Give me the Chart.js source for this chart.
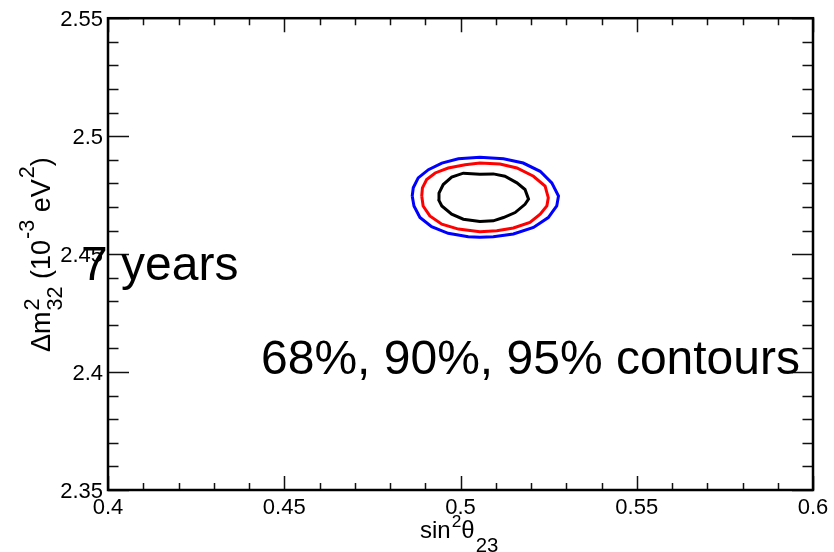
<!DOCTYPE html>
<html><head><meta charset="utf-8">
<script src="https://cdn.jsdelivr.net/npm/chart.js@4.4.1/dist/chart.umd.min.js"></script>
<style>html,body{margin:0;padding:0;background:#fff;overflow:hidden;}#wrap{width:834px;height:552px;position:relative;}</style>
</head><body><div id="wrap"><canvas id="c" width="834" height="552"></canvas></div>
<script>
// ---- data ----
const xTickLabels = ['0.4', '0.45', '0.5', '0.55', '0.6'];
const yTickLabels = ['2.35', '2.4', '2.45', '2.5', '2.55'];
const contourNames = ['95%', '90%', '68%'];

const contour68X = [0.4937,0.4939,0.4951,0.4975,0.5008,0.5055,0.5093,0.5126,0.5160,0.5183,0.5193,0.5183,0.5155,0.5122,0.5093,0.5055,0.5008,0.4975,0.4947,0.4937];
const contour68Y = [2.4733,2.4759,2.4795,2.4826,2.4843,2.4838,2.4840,2.4830,2.4802,2.4774,2.4733,2.4711,2.4676,2.4655,2.4641,2.4638,2.4648,2.4669,2.4704,2.4733];

const contour90X = [0.4890,0.4892,0.4904,0.4928,0.4965,0.5013,0.5055,0.5112,0.5160,0.5207,0.5240,0.5249,0.5245,0.5226,0.5197,0.5150,0.5103,0.5055,0.4994,0.4947,0.4913,0.4894,0.4890];
const contour90Y = [2.4746,2.4781,2.4816,2.4844,2.4865,2.4879,2.4886,2.4882,2.4865,2.4830,2.4788,2.4739,2.4704,2.4669,2.4634,2.4611,2.4599,2.4595,2.4606,2.4627,2.4662,2.4704,2.4746];

const contour95X = [0.4863,0.4866,0.4880,0.4909,0.4947,0.4994,0.5055,0.5122,0.5178,0.5226,0.5259,0.5278,0.5273,0.5249,0.5207,0.5150,0.5093,0.5055,0.5022,0.4965,0.4918,0.4885,0.4868,0.4863];
const contour95Y = [2.4746,2.4781,2.4823,2.4858,2.4886,2.4904,2.4911,2.4904,2.4886,2.4851,2.4802,2.4746,2.4704,2.4655,2.4613,2.4585,2.4574,2.4571,2.4574,2.4588,2.4616,2.4655,2.4704,2.4746];

const annotationYears = '7 years';
const annotationContours = '68%, 90%, 95% contours';

// ---- build ----
const FONT = '"Liberation Sans", Arial, Helvetica, sans-serif';
const xTickValues = xTickLabels.map(Number);
const yTickValues = yTickLabels.map(Number);
const toPts = (xs, ys) => xs.map((x, i) => ({x: x, y: ys[i]}));

function drawRich(ctx, x, y, rot, base, segs) {
  ctx.save();
  ctx.translate(x, y);
  ctx.rotate(rot);
  ctx.textBaseline = 'alphabetic';
  ctx.textAlign = 'left';
  ctx.fillStyle = '#000';
  let cx = 0, prevStart = 0, prevW = 0;
  for (const s of segs) {
    const size = base * (s.scale || 1);
    ctx.font = size + 'px ' + FONT;
    const sx = (s.stack ? prevStart : cx) + (s.dx || 0);
    ctx.fillText(s.t, sx, s.dy || 0);
    const w = ctx.measureText(s.t).width;
    if (s.stack) { cx = Math.max(prevStart + prevW, sx + w); }
    else { prevStart = sx; prevW = w; cx = sx + w; }
  }
  ctx.restore();
}

const rootStyle = {
  id: 'rootStyle',
  afterDatasetsDraw(chart) {
    const ctx = chart.ctx;
    const a = chart.chartArea;
    const xs = chart.scales.x, ys = chart.scales.y;
    ctx.save();
    ctx.strokeStyle = '#111';
    ctx.lineWidth = 1.5;
    ctx.beginPath();
    const xMaj = 14, xMin = 7, yMaj = 21, yMin = 10.5;
    for (let k = 0; k <= 20; k++) {
      const v = 0.4 + k * 0.01;
      const px = Math.round(xs.getPixelForValue(v)) + 0.5;
      const len = (k % 5 === 0) ? xMaj : xMin;
      ctx.moveTo(px, a.bottom); ctx.lineTo(px, a.bottom - len);
      ctx.moveTo(px, a.top); ctx.lineTo(px, a.top + len);
    }
    for (let k = 0; k <= 20; k++) {
      const v = 2.35 + k * 0.01;
      const py = Math.round(ys.getPixelForValue(v)) + 0.5;
      const len = (k % 5 === 0) ? yMaj : yMin;
      ctx.moveTo(a.left, py); ctx.lineTo(a.left + len, py);
      ctx.moveTo(a.right, py); ctx.lineTo(a.right - len, py);
    }
    ctx.stroke();
    ctx.strokeStyle = '#000';
    ctx.lineWidth = 2.5;
    ctx.strokeRect(a.left, a.top, a.right - a.left, a.bottom - a.top);
    ctx.restore();
  },
  afterDraw(chart) {
    const ctx = chart.ctx;
    ctx.save();
    drawRich(ctx, 420, 538, 0, 24, [
      {t: 'sin'}, {t: '2', scale: 0.72, dy: -11, dx: 1}, {t: 'θ'}, {t: '23', scale: 0.85, dy: 14, dx: 1}
    ]);
    drawRich(ctx, 50, 352, -Math.PI / 2, 27, [
      {t: 'Δm'}, {t: '2', scale: 0.8, dy: -11, dx: 1}, {t: '32', scale: 0.8, dy: 12, stack: true},
      {t: ' (10'}, {t: '-3', scale: 0.8, dy: -16, dx: 1}, {t: ' eV'}, {t: '2', scale: 0.8, dy: -16, dx: 1}, {t: ')'}
    ]);
    ctx.fillStyle = '#000';
    ctx.textBaseline = 'alphabetic';
    ctx.textAlign = 'left';
    ctx.font = '48px ' + FONT;
    ctx.fillText(annotationYears, 81, 280);
    ctx.fillText(annotationContours, 261, 374);
    ctx.restore();
  }
};

const colors = ['#0000ff', '#ff0000', '#000000'];
const series = [[contour95X, contour95Y], [contour90X, contour90Y], [contour68X, contour68Y]];

new Chart(document.getElementById('c'), {
  type: 'scatter',
  data: {
    datasets: series.map((s, i) => ({
      label: contourNames[i],
      data: toPts(s[0], s[1]),
      showLine: true,
      borderColor: colors[i],
      backgroundColor: colors[i],
      borderWidth: 3,
      pointRadius: 0,
      tension: 0,
      fill: false
    }))
  },
  options: {
    responsive: false,
    animation: false,
    devicePixelRatio: 1,
    layout: {padding: {left: 0, top: 13, right: 21, bottom: 0}},
    plugins: {legend: {display: false}, tooltip: {enabled: false}, title: {display: false}},
    scales: {
      x: {
        type: 'linear', min: 0.4, max: 0.6,
        afterBuildTicks: s => { s.ticks = xTickValues.map(v => ({value: v})); },
        afterFit: s => { s.height = 62; },
        grid: {display: false, drawTicks: false}, border: {display: false},
        ticks: {callback: (v, i) => xTickLabels[i], color: '#000', font: {family: FONT, size: 22}, padding: 5, maxRotation: 0, autoSkip: false}
      },
      y: {
        type: 'linear', min: 2.35, max: 2.55,
        afterBuildTicks: s => { s.ticks = yTickValues.map(v => ({value: v})); },
        afterFit: s => { s.width = 108; },
        grid: {display: false, drawTicks: false}, border: {display: false},
        ticks: {callback: (v, i) => yTickLabels[i], color: '#000', font: {family: FONT, size: 22}, padding: 5, labelOffset: 2, autoSkip: false}
      }
    }
  },
  plugins: [rootStyle]
});
</script>
</body></html>
